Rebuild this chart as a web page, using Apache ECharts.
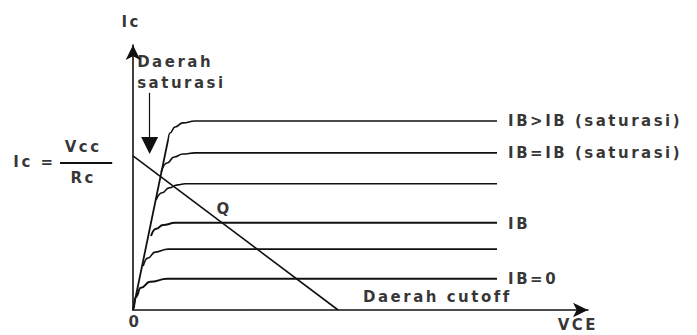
<!DOCTYPE html>
<html>
<head>
<meta charset="utf-8">
<title>Kurva karakteristik transistor</title>
<script src="https://cdn.jsdelivr.net/npm/echarts@6/dist/echarts.min.js"></script>
<style>
  html, body { margin: 0; padding: 0; background: #fff; }
  #chart { width: 697px; height: 335px; }
  /* huruf tebal yang renggang seperti gambar aslinya */
  #chart text { letter-spacing: 2.5px; }
</style>
</head>
<body>
<div id="chart"></div>
<script>
// kurva IC-VCE (satuan bebas, sumbu 0..98.5 x 0..97)
const curveIB6 = [[0.2, 0.7], [0.6, 4.8], [1.7, 8.1], [3.7, 10.3], [7.4, 11.4], [78.8, 11.4]];   // IB = 0
const curveIB5 = [[2.2, 16.1], [3.2, 19.0], [4.8, 21.2], [7.6, 22.3], [78.8, 22.3]];
const curveIB4 = [[3.9, 27.1], [5.0, 29.7], [6.5, 31.1], [9.1, 31.9], [78.8, 31.9]];             // IB
const curveIB3 = [[5.0, 40.3], [6.3, 42.9], [7.8, 44.7], [9.7, 45.8], [11.3, 46.2], [78.8, 46.2]];
const curveIB2 = [[6.1, 50.5], [7.4, 53.8], [8.9, 56.0], [10.8, 57.1], [13.4, 57.5], [78.8, 57.5]]; // IB = IB (saturasi)
const curveIB1 = [[7.6, 62.3], [8.0, 64.8], [9.1, 67.0], [10.8, 68.5], [13.4, 69.2], [78.8, 69.2]]; // IB > IB (saturasi)
const saturationLine = [[0, 0], [7.6, 62.3]];
const loadLine = [[0, 56.4], [44.4, 0]];   // garis beban, IC = VCC/RC di sumbu IC
const saturasiArrow = [[3.6, 79.5], [3.6, 60.2]];

// rumus di kiri (grid kedua, x -28.8..0)
const fractionBar = [[-15.8, 53.8], [-4.5, 53.8]];
const formulaTexts = ['Ic', '=', 'Vcc', 'Rc'];
const formulaX = [-23.8, -18.4, -10.8, -10.8];
const formulaY = [54.2, 54.2, 59.7, 48.4];

// teks rata kiri
const leftTexts = ['IB>IB (saturasi)', 'IB=IB (saturasi)', 'IB', 'IB=0', 'Daerah cutoff', 'Daerah', 'saturasi'];
const leftX = [81.2, 81.2, 81.2, 81.2, 49.8, 0.9, 0.9];
const leftY = [69.2, 57.5, 31.5, 11.4, 4.8, 90.8, 83.2];
// teks rata tengah
const centerTexts = ['Ic', 'VCE', '0', 'Q'];
const centerX = [-0.4, 96.3, 0.4, 19.7];
const centerY = [105.5, -5.6, -4.4, 37.0];

const chart = echarts.init(document.getElementById('chart'), null, { renderer: 'svg' });

const font = { fontFamily: 'DejaVu Sans', fontWeight: 'bold', fontSize: 15, color: '#000' };

function curve(data, width) {
  return {
    type: 'line',
    data: data,
    smooth: 0.5,
    smoothMonotone: 'x',
    showSymbol: false,
    clip: false,
    lineStyle: { color: '#111', width: width || 1.6 },
    silent: true
  };
}

function textSeries(texts, xs, ys, position, gridIndex) {
  return {
    type: 'scatter',
    xAxisIndex: gridIndex,
    yAxisIndex: gridIndex,
    symbolSize: 0,
    clip: false,
    silent: true,
    data: texts.map((t, i) => [xs[i], ys[i], t]),
    label: {
      show: true,
      position: position,
      distance: 0,
      formatter: p => p.value[2],
      ...font
    }
  };
}

const mainAxis = {
  type: 'value',
  gridIndex: 0,
  axisTick: { show: false },
  axisLabel: { show: false },
  splitLine: { show: false },
  axisLine: {
    show: true,
    symbol: ['none', 'arrow'],
    symbolSize: [11, 15],
    lineStyle: { color: '#111', width: 1.6 }
  }
};
const blankAxis = {
  type: 'value',
  gridIndex: 1,
  show: false
};

const option = {
  backgroundColor: '#fff',
  animation: false,
  grid: [
    { left: 133, right: 109, top: 45, bottom: 25 },
    { left: 0, width: 133, top: 45, bottom: 25 }
  ],
  xAxis: [
    Object.assign({}, mainAxis, { min: 0, max: 98.5 }),
    Object.assign({}, blankAxis, { min: -28.8, max: 0 })
  ],
  yAxis: [
    Object.assign({}, mainAxis, { min: 0, max: 97 }),
    Object.assign({}, blankAxis, { min: 0, max: 97 })
  ],
  series: [
    curve(curveIB1),
    curve(curveIB2),
    curve(curveIB3),
    curve(curveIB4, 2),
    curve(curveIB5),
    curve(curveIB6, 2),
    {
      type: 'line',
      data: saturationLine,
      showSymbol: false,
      lineStyle: { color: '#111', width: 1.8 },
      silent: true
    },
    {
      type: 'line',
      data: loadLine,
      showSymbol: false,
      lineStyle: { color: '#111', width: 1.6 },
      silent: true,
      // panah "Daerah saturasi"
      markLine: {
        silent: true,
        symbol: ['none', 'triangle'],
        symbolSize: 17,
        label: { show: false },
        lineStyle: { color: '#111', width: 1.2, type: 'solid' },
        data: [[{ coord: saturasiArrow[0] }, { coord: saturasiArrow[1] }]]
      }
    },
    {
      type: 'line',
      xAxisIndex: 1,
      yAxisIndex: 1,
      data: fractionBar,
      showSymbol: false,
      lineStyle: { color: '#111', width: 2 },
      silent: true
    },
    textSeries(formulaTexts, formulaX, formulaY, 'inside', 1),
    textSeries(leftTexts, leftX, leftY, 'right', 0),
    textSeries(centerTexts, centerX, centerY, 'inside', 0)
  ]
};

chart.setOption(option);
</script>
</body>
</html>
